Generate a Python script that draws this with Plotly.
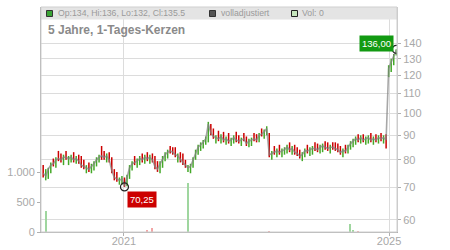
import pandas as pd
import plotly.graph_objects as go

# ---------------- data ----------------
dates = pd.date_range(end="2025-02-10", periods=140, freq="14D")

close = [75, 74, 76.5, 78, 78.5, 80, 80.5, 80, 81, 81,
         80.5, 81, 80, 80.5, 79.5, 78, 77.5, 77, 76.5, 77.5,
         78.5, 80, 81, 81.5, 81, 81.5, 80, 76, 73.5, 73,
         72.5, 73, 70.5, 73.5, 77, 78.5, 79, 79.5, 80.5, 80,
         81, 80.5, 81, 80, 77.5, 76.5, 78.5, 80.5, 82, 83,
         83.5, 83, 82, 81.5, 80, 79, 78, 77, 77.5, 80,
         83, 85, 86, 87, 88.5, 95, 91, 89.5, 89, 88.5,
         89.5, 88, 88.5, 87.5, 88, 89, 88, 87.5, 88, 88.5,
         86.5, 87.5, 88, 88.5, 88, 90, 90.5, 91.5, 93, 82,
         82.5, 83, 83.5, 83, 83.5, 84, 85, 84, 84.5, 83,
         82.5, 81.5, 82, 83.5, 83.5, 84, 84.5, 84.5, 84, 85,
         85.5, 85, 84.5, 85, 85, 84.5, 84, 83, 83.5, 83.5,
         85, 86.5, 87.5, 88.5, 88, 89, 88, 88.5, 89, 88,
         88.5, 88, 89, 88.5, 89, 88, 124, 128, 132, 135.5]

open_ = [77, 73, 74, 76, 79.5, 78, 82.5, 81.5, 79, 82.5,
         79, 80, 82, 79.5, 81, 80.5, 79, 76, 78, 76,
         77, 78.5, 80, 84.5, 82.5, 80, 82, 80, 75.5, 74.5,
         71.5, 72, 72.5, 71, 74, 77, 80.5, 78, 79, 81.5,
         79.5, 82, 79.5, 81.5, 80.5, 78.5, 76, 78, 80.5, 81.5,
         84.5, 84, 84, 80, 82, 81.5, 79, 76, 76, 78,
         81, 83, 84.5, 85.5, 87, 88, 94, 92, 87.5, 91,
         87.5, 90.5, 87, 90, 86.5, 87.5, 90.5, 89, 86.5, 90,
         88.5, 86, 86.5, 90, 89.5, 88, 92, 89.5, 91, 90,
         81, 84.5, 82, 85, 82, 83, 83.5, 86, 83, 85,
         84, 83, 80.5, 82, 85, 82.5, 83, 86, 85.5, 83.5,
         84, 86.5, 86, 83.5, 86, 86, 85.5, 84.5, 82, 85,
         83.5, 85, 86, 87, 89.5, 87.5, 89.5, 87, 87.5, 90,
         87, 89.5, 87.5, 90, 87.5, 89.5, 121, 124.5, 128, 134]

high = [78, 76.5, 77, 79, 80.5, 81, 83.5, 82.5, 82, 83.5,
        81.5, 82, 83, 81.5, 82, 81.5, 80, 78, 79, 78.5,
        79.5, 81, 82, 85.5, 83.5, 82.5, 83, 81, 76.5, 75.5,
        73.5, 74, 73.5, 74.5, 78, 79.5, 81.5, 80.5, 81.5, 82.5,
        82, 83, 82, 82.5, 81.5, 79.5, 79.5, 81.5, 83, 84,
        85.5, 85, 85, 82.5, 83, 82.5, 80, 78, 78.5, 81,
        84, 86, 87, 88, 89.5, 96, 95, 93, 90, 92,
        90.5, 91.5, 89.5, 91, 89, 90, 91.5, 90, 89, 91,
        89.5, 88.5, 89, 91, 90.5, 91, 93, 92.5, 94, 91,
        83.5, 85.5, 84.5, 86, 84.5, 85, 86, 87, 85.5, 86,
        85, 84, 83, 84.5, 86, 85, 85.5, 87, 86.5, 86,
        86.5, 87.5, 87, 86, 87, 87, 86.5, 85.5, 84.5, 86,
        86, 87.5, 88.5, 89.5, 90.5, 90, 90.5, 89.5, 90, 91,
        89.5, 90.5, 90, 91, 90, 90.5, 126, 130, 133, 136]

low = [73.5, 72.5, 73, 75, 77.5, 77, 79.5, 79, 78, 80,
       78, 79, 79, 78.5, 78.5, 77, 76.5, 75, 75.5, 75,
       76, 77.5, 79, 80, 80, 79, 79, 75, 72.5, 72,
       71, 71, 70.25, 70.5, 73, 76, 78, 77, 78, 79,
       78.5, 79.5, 78.5, 79, 76.5, 75.5, 75, 77, 79.5, 80.5,
       82.5, 82, 81, 79, 79, 78, 77, 75.5, 75, 77,
       80, 82, 83.5, 84.5, 86, 87, 90, 88.5, 86.5, 87.5,
       86.5, 87, 86, 86.5, 85.5, 86.5, 87, 86.5, 85.5, 87.5,
       85.5, 85, 85.5, 87.5, 87, 87, 89.5, 88.5, 90, 81,
       80, 82, 81, 82, 81, 82, 82.5, 83, 82, 82,
       81.5, 80.5, 79.5, 81, 82.5, 81.5, 82, 83.5, 83, 82.5,
       83, 84, 83.5, 82.5, 84, 83.5, 83, 82, 81, 82.5,
       82.5, 84, 85, 86, 87, 86.5, 87, 86, 86.5, 87,
       86, 87, 86.5, 87.5, 86.5, 84.5, 119, 122, 126, 132]

volume = [0] * 140
volume_points = {1: 350, 41: 20, 43: 65, 57: 820, 89: 15, 121: 130, 122: 30, 124: 15}
for k, v in volume_points.items():
    volume[k] = v

price_ticks = [60, 70, 80, 90, 100, 110, 120, 130, 140]
vol_ticks = [0, 500, 1000]
vol_ticktext = ["0", "500", "1.000"]
year_ticks = ["2021-01-01", "2025-01-01"]
year_text = ["2021", "2025"]

low_idx = 32
low_value = 70.25
last_high = 136.0
low_label = "70,25"
last_label = "136,00"

legend_ohlc = "Op:134, Hi:136, Lo:132, Cl:135.5"
title_text = "5 Jahre, 1-Tages-Kerzen"

# ---------------- layout helpers (pixel -> paper) ----------------
L, R, T, B = 41, 397, 7, 232
def px(x):
    return (x - L) / (R - L)
def py(y):
    return (B - y) / (B - T)

FONT = "Liberation Sans, Arial, sans-serif"
GREEN = "#44a828"
RED = "#cc0000"

vol_colors = ["#9fd69f" if c >= o else "#f2a5a5" for o, c in zip(open_, close)]

fig = go.Figure()

fig.add_trace(go.Bar(
    x=dates, y=volume, yaxis="y2", marker=dict(color=vol_colors, line=dict(width=0)),
    width=6.0e8, hoverinfo="skip", showlegend=False))

fig.add_trace(go.Scatter(
    x=dates, y=close, mode="lines",
    line=dict(color="rgba(130,130,130,0.7)", width=1.6),
    hoverinfo="skip", showlegend=False))

fig.add_trace(go.Ohlc(
    x=dates, open=open_, high=high, low=low, close=close,
    increasing=dict(line=dict(color=GREEN, width=1.5)),
    decreasing=dict(line=dict(color=RED, width=1.5)),
    tickwidth=0, hoverinfo="skip", showlegend=False))

fig.add_trace(go.Scatter(
    x=[dates[low_idx], dates[-1]], y=[low_value, last_high], mode="markers",
    marker=dict(symbol="circle-open", size=8, color="#222", line=dict(width=1.2)),
    hoverinfo="skip", showlegend=False))

axis_font = dict(family=FONT, size=11, color="#a8a8a8")

fig.update_layout(
    width=450, height=250,
    margin=dict(l=L, r=450 - R, t=T, b=250 - B, autoexpand=False),
    paper_bgcolor="white", plot_bgcolor="white",
    template="none",
    font=dict(family=FONT),
    showlegend=False,
    bargap=0,
    xaxis=dict(
        type="date", range=["2019-10-02", "2025-02-14"],
        tickvals=year_ticks, ticktext=year_text,
        showgrid=True, gridcolor="#dcdcdc", gridwidth=1,
        showline=True, linecolor="#b0b0b0", linewidth=1,
        ticks="outside", ticklen=3, tickcolor="#b0b0b0",
        ticklabelstandoff=-4,
        tickfont=axis_font, zeroline=False,
        rangeslider=dict(visible=False), automargin=False),
    yaxis=dict(
        type="log", side="right",
        range=[1.75260, 2.22180],
        tickvals=price_ticks, ticktext=[str(v) for v in price_ticks],
        showgrid=True, gridcolor="#dcdcdc", gridwidth=1,
        showline=True, linecolor="#c8c8c8", linewidth=1,
        ticks="outside", ticklen=3, tickcolor="#b0b0b0",
        tickfont=axis_font, zeroline=False, automargin=False),
    yaxis2=dict(
        overlaying="y", side="left", range=[0, 3750],
        tickvals=vol_ticks, ticktext=vol_ticktext,
        showgrid=False, showline=True, linecolor="#b0b0b0", linewidth=1,
        ticks="outside", ticklen=3, tickcolor="#b0b0b0",
        tickfont=axis_font, zeroline=False, automargin=False),
)

shapes = [
    dict(type="rect", xref="paper", yref="paper", x0=0, x1=1, y0=py(19.5), y1=1,
         fillcolor="#e4e4e4", line=dict(width=0), layer="above"),
    dict(type="rect", xref="paper", yref="paper", x0=0, x1=1, y0=0, y1=1,
         line=dict(color="#cfcfcf", width=1), fillcolor="rgba(0,0,0,0)", layer="above"),
    dict(type="rect", xref="paper", yref="paper", x0=px(46.5), x1=px(52.5), y0=py(16.5), y1=py(10.5),
         fillcolor="#3aa335", line=dict(color="#333", width=1), layer="above"),
    dict(type="rect", xref="paper", yref="paper", x0=px(209.5), x1=px(215.5), y0=py(16.5), y1=py(10.5),
         fillcolor="#555555", line=dict(color="#333", width=1), layer="above"),
    dict(type="rect", xref="paper", yref="paper", x0=px(291.5), x1=px(297.5), y0=py(16.5), y1=py(10.5),
         fillcolor="#c6e6bd", line=dict(color="#222", width=1), layer="above"),
]

leg_font = dict(family=FONT, size=8.7, color="#9a9a9a")
annotations = [
    dict(text=legend_ohlc, xref="paper", yref="paper", x=px(56), y=py(13.5),
         xanchor="left", yanchor="middle", showarrow=False, font=leg_font),
    dict(text="volladjustiert", xref="paper", yref="paper", x=px(219), y=py(13.5),
         xanchor="left", yanchor="middle", showarrow=False, font=leg_font),
    dict(text="Vol: 0", xref="paper", yref="paper", x=px(300), y=py(13.5),
         xanchor="left", yanchor="middle", showarrow=False, font=leg_font),
    dict(text="<b>" + title_text + "</b>", xref="paper", yref="paper", x=px(46), y=py(30),
         xanchor="left", yanchor="middle", showarrow=False,
         font=dict(family=FONT, size=12, color="#8a8a8a")),
    dict(text=low_label, xref="paper", yref="paper", x=px(127), y=py(191),
         xanchor="left", yanchor="top", showarrow=False, bgcolor=RED, borderpad=2,
         font=dict(family=FONT, size=9.5, color="white")),
    dict(text=last_label, xref="paper", yref="paper", x=px(394), y=py(35),
         xanchor="right", yanchor="top", showarrow=False, bgcolor="#129a12", borderpad=2,
         font=dict(family=FONT, size=9.5, color="white")),
]

fig.update_layout(shapes=shapes, annotations=annotations)
fig.write_html("out.html")
